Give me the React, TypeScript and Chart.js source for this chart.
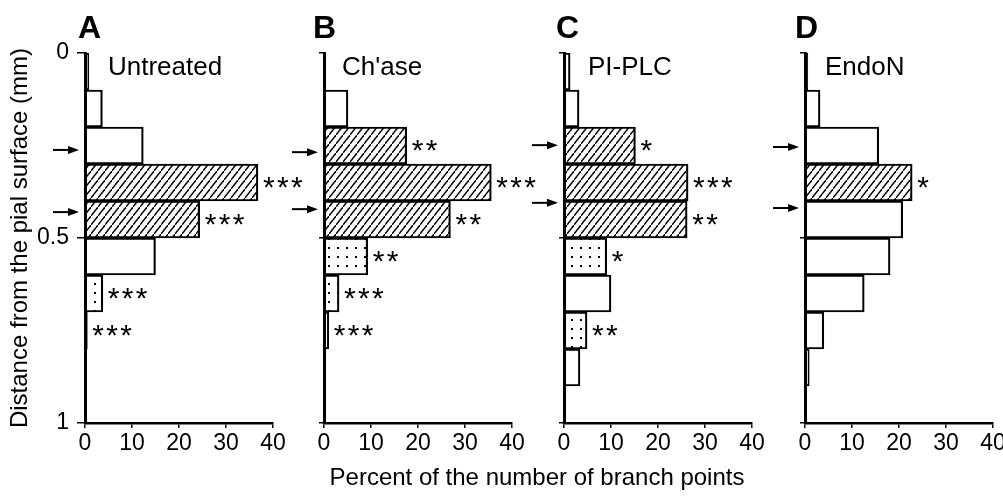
import React, { useEffect, useRef } from 'react';
import { Chart, registerables } from 'chart.js';

Chart.register(...registerables);

// ---------------- data ----------------
const depthBins = [0.05, 0.15, 0.25, 0.35, 0.45, 0.55, 0.65, 0.75, 0.85, 0.95]; // bin centres (mm)
const yTickValues = [0, 0.5, 1];
const yTickLabels = ['0', '0.5', '1'];
const xTickStep = 10;

const panelLetters = ['A', 'B', 'C', 'D'];
const panelTitles = ['Untreated', "Ch'ase", 'PI-PLC', 'EndoN'];

const untreatedValues = [0.8, 3.7, 12.4, 36.8, 24.4, 15.0, 3.8, 0.5, 0, 0];
const chaseValues = [0, 5.1, 17.6, 35.6, 26.9, 9.3, 3.2, 1.0, 0, 0];
const piplcValues = [1.3, 3.2, 15.2, 26.4, 26.2, 9.1, 10.0, 4.9, 3.4, 0];
const endonValues = [0.6, 3.2, 15.7, 22.8, 20.8, 18.1, 12.6, 4.0, 0.9, 0];

const untreatedFills = ['open', 'open', 'open', 'hatch', 'hatch', 'open', 'dot', 'open', 'open', 'open'];
const chaseFills = ['open', 'open', 'hatch', 'hatch', 'hatch', 'dot', 'dot', 'dot', 'open', 'open'];
const piplcFills = ['open', 'open', 'hatch', 'hatch', 'hatch', 'dot', 'open', 'dot', 'open', 'open'];
const endonFills = ['open', 'open', 'open', 'hatch', 'open', 'open', 'open', 'open', 'open', 'open'];

const untreatedStars = ['', '', '', '***', '***', '', '***', '***', '', ''];
const chaseStars = ['', '', '**', '***', '**', '**', '***', '***', '', ''];
const piplcStars = ['', '', '*', '***', '**', '*', '', '**', '', ''];
const endonStars = ['', '', '', '*', '', '', '', '', '', ''];

const untreatedArrows = [0.262, 0.43];
const chaseArrows = [0.268, 0.422];
const piplcArrows = [0.249, 0.405];
const endonArrows = [0.254, 0.419];

const xAxisTitle = 'Percent of the number of branch points';
const yAxisTitle = 'Distance from the pial surface (mm)';

// ---------------- layout / style ----------------
const W = 1003;
const H = 496;
const FONT = '"Liberation Sans", Arial, Helvetica, sans-serif';
const PLOT_TOP = 53;
const PLOT_BOTTOM = 423;
const PLOT_WIDTH = 188;

const panels = [
  { values: untreatedValues, fills: untreatedFills, stars: untreatedStars, arrows: untreatedArrows, axisX: 85, letterDx: -7, titleDx: 23, showYLabels: true },
  { values: chaseValues, fills: chaseFills, stars: chaseStars, arrows: chaseArrows, axisX: 324, letterDx: -11, titleDx: 18, showYLabels: false },
  { values: piplcValues, fills: piplcFills, stars: piplcStars, arrows: piplcArrows, axisX: 564, letterDx: -8, titleDx: 24, showYLabels: false },
  { values: endonValues, fills: endonFills, stars: endonStars, arrows: endonArrows, axisX: 805, letterDx: -10, titleDx: 20, showYLabels: false },
];

function makeHatch(ctx: CanvasRenderingContext2D) {
  const w = 7, h = 9;
  const c = document.createElement('canvas');
  c.width = w; c.height = h;
  const g = c.getContext('2d')!;
  g.fillStyle = '#fff';
  g.fillRect(0, 0, w, h);
  g.strokeStyle = '#000';
  g.lineWidth = 1.4;
  for (const [dx, dy] of [[0, 0], [w, -h], [-w, h]]) {
    g.beginPath();
    g.moveTo(dx, h + dy);
    g.lineTo(w + dx, dy);
    g.stroke();
  }
  return ctx.createPattern(c, 'repeat')!;
}

function makeDots(ctx: CanvasRenderingContext2D) {
  const s = 9;
  const c = document.createElement('canvas');
  c.width = s; c.height = s;
  const g = c.getContext('2d')!;
  g.fillStyle = '#fff';
  g.fillRect(0, 0, s, s);
  g.fillStyle = '#000';
  g.fillRect(4, 4, 2, 2);
  return ctx.createPattern(c, 'repeat')!;
}

function Panel({ index }: { index: number }) {
  const ref = useRef<HTMLCanvasElement | null>(null);
  useEffect(() => {
    const canvas = ref.current!;
    const ctx0 = canvas.getContext('2d')!;
    const p = panels[index];
    const hatch = makeHatch(ctx0);
    const dots = makeDots(ctx0);
    const yW = p.showYLabels ? 79 : 10;

    const annotate = {
      id: 'annotate' + index,
      afterDraw(chart: any) {
        const { ctx, chartArea, scales } = chart;
        const x = scales.x;
        const y = scales.y;
        ctx.save();
        ctx.fillStyle = '#000';
        ctx.strokeStyle = '#000';
        // significance stars
        ctx.font = `30px ${FONT}`;
        ctx.textAlign = 'left';
        ctx.textBaseline = 'alphabetic';
        const m = ctx.measureText('*');
        const vOff = (m.actualBoundingBoxAscent - m.actualBoundingBoxDescent) / 2;
        p.stars.forEach((s: string, i: number) => {
          if (!s) return;
          const px = x.getPixelForValue(p.values[i]) + 5;
          const py = y.getPixelForValue(depthBins[i]);
          for (let k = 0; k < s.length; k++) {
            ctx.fillText('*', px + k * 14 + m.actualBoundingBoxLeft, py + vOff);
          }
        });
        // arrows
        p.arrows.forEach((d: number) => {
          const py = y.getPixelForValue(d);
          const tip = chartArea.left - 6;
          ctx.lineWidth = 2;
          ctx.beginPath();
          ctx.moveTo(tip - 26, py);
          ctx.lineTo(tip - 8, py);
          ctx.stroke();
          ctx.beginPath();
          ctx.moveTo(tip, py);
          ctx.lineTo(tip - 11, py - 4);
          ctx.lineTo(tip - 11, py + 4);
          ctx.closePath();
          ctx.fill();
        });
        // panel letter and title
        ctx.font = `bold 32px ${FONT}`;
        ctx.fillText(panelLetters[index], chartArea.left + p.letterDx, 38);
        ctx.font = `26px ${FONT}`;
        ctx.fillText(panelTitles[index], chartArea.left + p.titleDx, 75);
        ctx.restore();
      },
    };

    const chart = new Chart(canvas, {
      type: 'bar',
      data: {
        datasets: [
          {
            data: p.values.map((v, i) => ({ x: v, y: depthBins[i] })),
            backgroundColor: p.fills.map((f) => (f === 'hatch' ? hatch : f === 'dot' ? dots : '#fff')),
            borderColor: '#000',
            borderWidth: 2.2,
            borderSkipped: 'start',
            barPercentage: 1,
            categoryPercentage: 1,
          } as any,
        ],
      },
      options: {
        indexAxis: 'y',
        responsive: false,
        animation: false,
        devicePixelRatio: 1,
        layout: {
          padding: { left: p.axisX - yW, right: W - p.axisX - PLOT_WIDTH, top: PLOT_TOP, bottom: 0 },
        },
        plugins: { legend: { display: false }, tooltip: { enabled: false }, title: { display: false } },
        scales: {
          y: {
            type: 'linear',
            reverse: true,
            min: 0,
            max: 1,
            offset: false,
            afterBuildTicks: (s: any) => {
              s.ticks = yTickValues.map((v) => ({ value: v }));
            },
            afterFit: (s: any) => {
              s.width = yW;
              s.paddingTop = 0;
              s.paddingBottom = 0;
            },
            ticks: {
              display: p.showYLabels,
              color: '#000',
              font: { size: 23, family: FONT },
              padding: 8,
              callback: (v: any) => {
                const k = yTickValues.indexOf(Number(v));
                return k >= 0 ? yTickLabels[k] : '';
              },
            },
            grid: {
              display: true,
              offset: false,
              drawOnChartArea: false,
              drawTicks: true,
              tickLength: p.showYLabels ? 8 : 5,
              color: '#000',
              lineWidth: 1.5,
            },
            border: { display: true, color: '#000', width: 3, z: 1 },
            title: {
              display: p.showYLabels,
              text: yAxisTitle,
              color: '#000',
              font: { size: 24, family: FONT },
              padding: 0,
            },
          } as any,
          x: {
            type: 'linear',
            min: 0,
            max: 40,
            afterFit: (s: any) => {
              s.height = H - PLOT_BOTTOM;
              s.paddingLeft = 0;
              s.paddingRight = 0;
            },
            ticks: {
              stepSize: xTickStep,
              color: '#000',
              font: { size: 23, family: FONT },
              padding: 2,
              maxRotation: 0,
            },
            grid: {
              display: true,
              drawOnChartArea: false,
              drawTicks: true,
              tickLength: 5,
              color: '#000',
              lineWidth: 1.5,
            },
            border: { display: true, color: '#000', width: 2.5, z: 1 },
          } as any,
        },
      },
      plugins: [annotate],
    });
    return () => chart.destroy();
  }, [index]);
  return (
    <canvas
      ref={ref}
      width={W}
      height={H}
      style={{ position: 'absolute', left: 0, top: 0, width: W, height: H }}
    />
  );
}

export default function App() {
  return (
    <div
      style={{
        position: 'absolute',
        left: 0,
        top: 0,
        width: W,
        height: H,
        overflow: 'hidden',
        background: '#fff',
      }}
    >
      {panels.map((_, i) => (
        <Panel key={i} index={i} />
      ))}
      <div
        style={{
          position: 'absolute',
          left: 537,
          top: 477,
          transform: 'translate(-50%, -50%)',
          whiteSpace: 'nowrap',
          fontFamily: FONT,
          fontSize: 24,
          color: '#000',
        }}
      >
        {xAxisTitle}
      </div>
    </div>
  );
}
